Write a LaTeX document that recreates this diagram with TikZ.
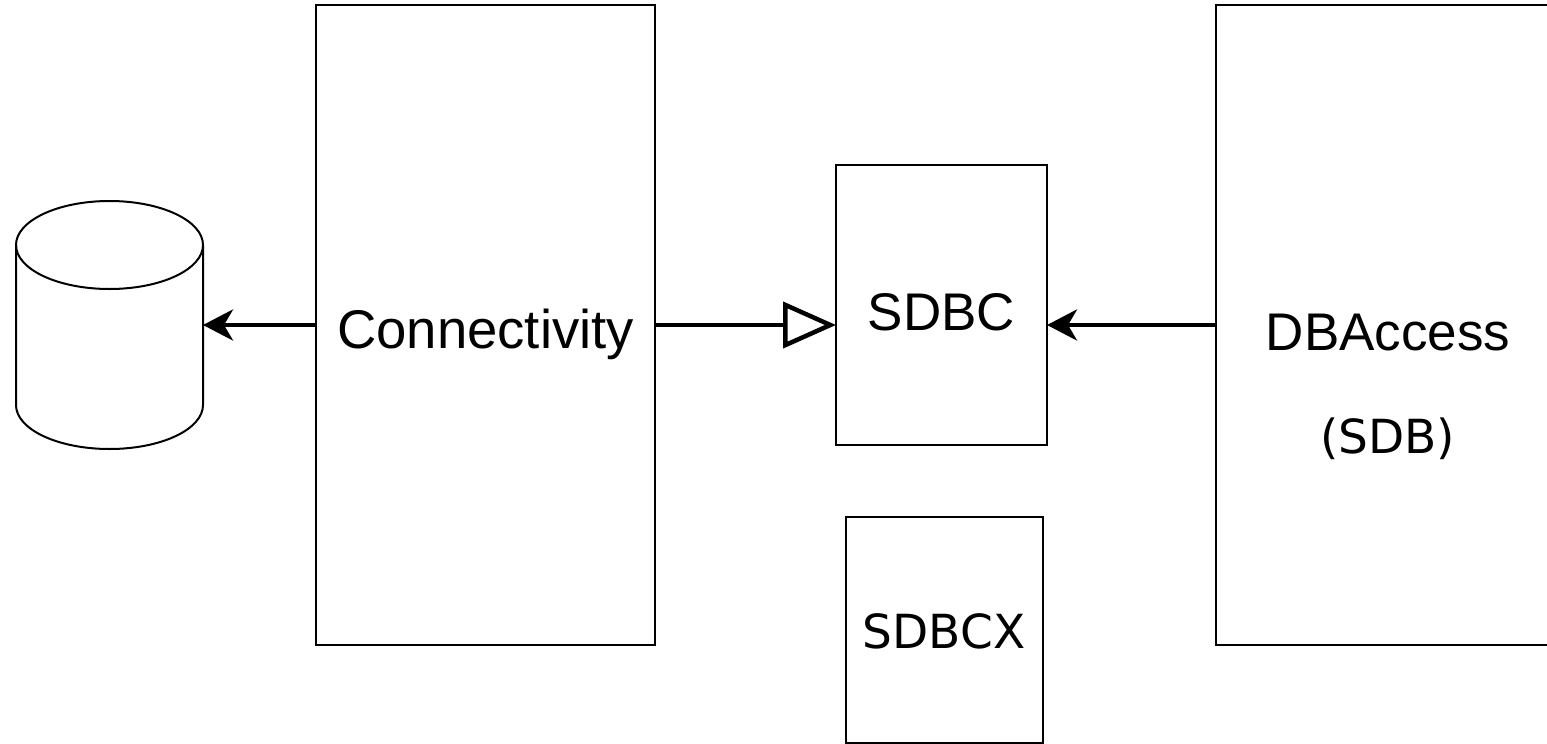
\documentclass[tikz,border=0pt]{standalone}
\usepackage{fontspec}
\setmainfont{Liberation Sans}
\newfontfamily\dejavu{DejaVu Sans}
\usetikzlibrary{arrows.meta, positioning}
\tikzset{
  block/.style={
    rectangle,
    draw=black,
    line width=2pt,
    inner sep=0pt,
    outer sep=0pt
  },
  store/.style={
    minimum width=187pt,
    minimum height=248pt,
    inner sep=0pt,
    outer sep=0pt
  },
  title/.style={
    font=\fontsize{53}{60}\selectfont,
    inner sep=0pt,
    anchor=base
  },
  subtitle/.style={
    font=\dejavu\fontsize{47}{56}\selectfont,
    inner sep=0pt,
    anchor=base
  },
  arrow/.style={draw, line width=4.5pt, -{Stealth[length=30pt, width=31pt, inset=9pt]}},
  implements/.style={draw, line width=4.5pt, -{Triangle[open, length=53pt, width=46pt]}}
}
\begin{document}
\begin{tikzpicture}[x=1pt, y=-1pt]
    \useasboundingbox (0,0) rectangle (1547,744);
    \clip (0,0) rectangle (1547,744);
    \node (conn) [block, minimum width=339pt, minimum height=640pt] at (485.5,325) {};
    \node (db) [store, left=113pt of conn] {};
    \node (sdbc) [block, minimum width=211pt, minimum height=280pt] at (941.5,305) {};
    \node (sdbcx) [block, minimum width=197pt, minimum height=226pt, below=72pt of sdbc, xshift=3pt] {};
    \node (dbacc) [block, minimum width=344pt, minimum height=640pt] at (1388,325) {};
    % database drum
    \begin{scope}[shift={(db.center)}, line width=2pt]
      \draw (0,-80) ellipse [x radius=93.5, y radius=44];
      \draw (-93.5,-80) -- (-93.5,80) arc [start angle=180, end angle=0, x radius=93.5, y radius=44] -- (93.5,-80);
    \end{scope}
    % texts
    \node (conntxt) [title, font=\fontsize{54.5}{60}\selectfont] at (485.5,348) {Connectivity};
    \node (sdbctxt) [title] at (941.5,330) {SDBC};
    \node (sdbcxtxt) [subtitle] at (944,648) {SDBCX};
    \node (dbacctxt) [title] at (1388,350) {DBAccess};
    \node (sdbtxt) [subtitle] at (1387.5,453) {(SDB)};
    % connectors
    \draw [arrow] (conn.west) -- (conn.west -| db.east);
    \draw [implements] (conn.east) -- (conn.east -| sdbc.west);
    \draw [arrow] (dbacc.west) -- (dbacc.west -| sdbc.east);
\end{tikzpicture}
\end{document}
